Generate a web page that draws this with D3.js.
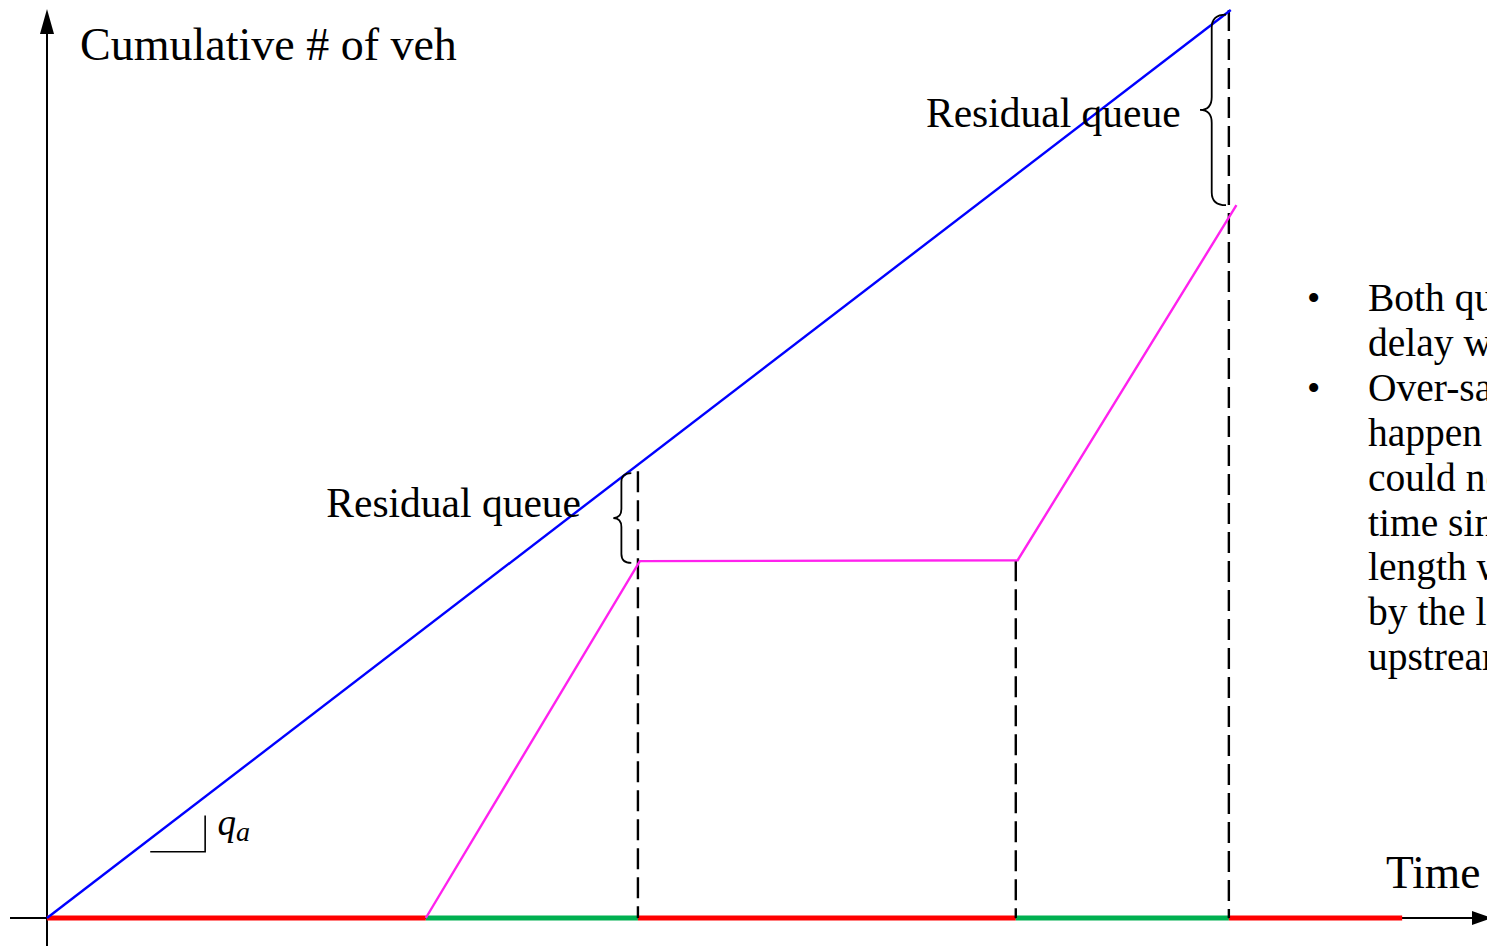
<!DOCTYPE html>
<html lang="en">
  <head>
    <meta charset="utf-8">
    <title>Cumulative vehicles</title>
    <script src="https://cdn.jsdelivr.net/npm/d3@7"></script>
    <style>
      body { margin: 0; overflow: hidden; background: #fff; }
      text { font-family: "Liberation Serif", serif; fill: #000; }
      .axis { stroke: #000; stroke-width: 2; }
      .arrival { stroke: #0000ff; stroke-width: 2.4; fill: none; }
      .departure { stroke: #ff22ee; stroke-width: 2.4; fill: none; }
      .guide { stroke: #000; stroke-width: 2.4; stroke-dasharray: 21,8; }
      .brace { stroke: #000; stroke-width: 1.8; fill: none; }
    </style>
  </head>
  <body>
    <script>
      var w = 1487, h = 946;

      // arrivals (blue) and departures (magenta): [time s, cumulative veh]
      var arrivals = [[0, 0], [125, 100]];
      var departures = [[40, 0], [62.6, 39.3], [102.5, 39.4], [125.6, 78.5]];

      // signal phases along the time axis
      var phaseStart = [0, 40, 62.4, 102.3, 124.8];
      var phaseEnd   = [40, 62.4, 102.3, 124.8, 143.1];
      var phaseColor = ["#ff0000", "#00b050", "#ff0000", "#00b050", "#ff0000"];

      // dashed guides: [time, top veh]
      var guides = [[62.4, 49.2], [102.3, 39.4], [124.8, 100]];

      // residual queue braces: [time of right edge, top veh, bottom veh]
      var braces = [[61.7, 49.0, 39.1], [124.5, 99.5, 78.5]];
      var braceLabels = ["Residual queue", "Residual queue"];

      var bulletLines = [
        ["\u2022", "Both queue length and"],
        ["", "delay will increase"],
        ["\u2022", "Over-saturation may"],
        ["", "happen when the queue"],
        ["", "could not clear in green"],
        ["", "time since the queue"],
        ["", "length will be limited"],
        ["", "by the link length"],
        ["", "upstream"]
      ];

      var xScale = d3.scaleLinear().domain([0, 150]).range([47, 47 + 150 * 9.47]);
      var yScale = d3.scaleLinear().domain([0, 100]).range([918, 10]);

      var svg = d3.select("body").append("svg")
                  .attr("width", w)
                  .attr("height", h);

      // axes
      svg.append("line").attr("class", "axis")
         .attr("x1", 10).attr("x2", 1478)
         .attr("y1", yScale(0)).attr("y2", yScale(0));
      svg.append("path")
         .attr("d", "M1472," + (yScale(0) - 7) + "L1492," + yScale(0) + "L1472," + (yScale(0) + 7) + "Z")
         .attr("fill", "#000");
      svg.append("line").attr("class", "axis")
         .attr("x1", xScale(0)).attr("x2", xScale(0))
         .attr("y1", 946).attr("y2", 30);
      svg.append("path")
         .attr("d", "M" + (xScale(0) - 7) + ",34L" + xScale(0) + ",9L" + (xScale(0) + 7) + ",34Z")
         .attr("fill", "#000");

      // signal phase bar
      svg.selectAll(".phase")
         .data(phaseStart)
         .enter().append("line")
         .attr("class", "phase")
         .attr("x1", function (d) { return xScale(d); })
         .attr("x2", function (d, i) { return xScale(phaseEnd[i]); })
         .attr("y1", yScale(0)).attr("y2", yScale(0))
         .attr("stroke", function (d, i) { return phaseColor[i]; })
         .attr("stroke-width", 5);

      // dashed guides
      svg.selectAll(".guide")
         .data(guides)
         .enter().append("line")
         .attr("class", "guide")
         .attr("x1", function (d) { return xScale(d[0]); })
         .attr("x2", function (d) { return xScale(d[0]); })
         .attr("y1", function (d) { return yScale(d[1]); })
         .attr("y2", yScale(0));

      var line = d3.line()
                   .x(function (d) { return xScale(d[0]); })
                   .y(function (d) { return yScale(d[1]); });

      svg.append("path").datum(arrivals).attr("class", "arrival").attr("d", line);
      svg.append("path").datum(departures).attr("class", "departure").attr("d", line);

      // curly braces opening to the right
      function bracePath(x1, y0, y1, depth) {
        var xm = x1 - depth * 0.55, x0 = x1 - depth, ym = (y0 + y1) / 2, r = depth * 0.5;
        var p = d3.path();
        p.moveTo(x1, y0);
        p.quadraticCurveTo(xm, y0, xm, y0 + r);
        p.lineTo(xm, ym - r);
        p.quadraticCurveTo(xm, ym, x0, ym);
        p.quadraticCurveTo(xm, ym, xm, ym + r);
        p.lineTo(xm, y1 - r);
        p.quadraticCurveTo(xm, y1, x1, y1);
        return p.toString();
      }

      svg.selectAll(".brace")
         .data(braces)
         .enter().append("path")
         .attr("class", "brace")
         .attr("d", function (d, i) {
           return bracePath(xScale(d[0]), yScale(d[1]), yScale(d[2]), i === 0 ? 18 : 26);
         });

      svg.selectAll(".braceLabel")
         .data(braces)
         .enter().append("text")
         .attr("class", "braceLabel")
         .attr("x", function (d, i) { return xScale(d[0]) - (i === 0 ? 305 : 300); })
         .attr("y", function (d, i) { return (yScale(d[1]) + yScale(d[2])) / 2 + (i === 0 ? -1 : 17) ; })
         .attr("font-size", 41.5)
         .text(function (d, i) { return braceLabels[i]; });

      // axis titles
      svg.append("text").attr("x", 80).attr("y", 60).attr("font-size", 46).text("Cumulative # of veh");
      svg.append("text").attr("x", 1386).attr("y", 888).attr("font-size", 45.5).text("Time");

      // slope marker q_a
      var sx = 10.9, sy = 7.3;
      svg.append("path")
         .attr("d", "M" + xScale(sx) + "," + yScale(sy) + "H" + xScale(16.7) + "V" + yScale(11.3))
         .attr("stroke", "#000").attr("stroke-width", 1.6).attr("fill", "none");
      var qa = svg.append("text").attr("x", xScale(18)).attr("y", yScale(9.1))
                  .attr("font-size", 37).attr("font-style", "italic");
      qa.append("tspan").text("q");
      qa.append("tspan").attr("font-size", 28).attr("dy", 6).text("a");

      // bullet text on the right
      var bullets = svg.append("g");
      bullets.selectAll("text.bul")
             .data(bulletLines)
             .enter().append("text")
             .attr("class", "bul")
             .attr("x", 1307)
             .attr("y", function (d, i) { return 311 + i * 44.9; })
             .attr("font-size", 38)
             .text(function (d) { return d[0]; });
      bullets.selectAll("text.line")
             .data(bulletLines)
             .enter().append("text")
             .attr("class", "line")
             .attr("x", 1368)
             .attr("y", function (d, i) { return 311 + i * 44.9; })
             .attr("font-size", 39.5)
             .text(function (d) { return d[1]; });
    </script>
  </body>
</html>
